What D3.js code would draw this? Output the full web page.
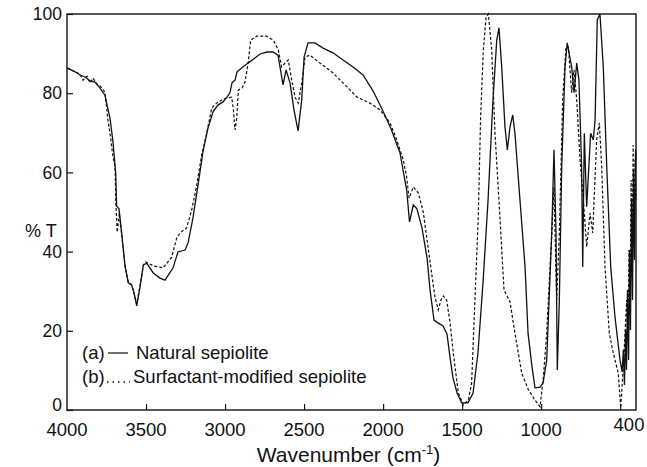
<!DOCTYPE html>
<html>
<head>
<meta charset="utf-8">
<script src="https://cdn.jsdelivr.net/npm/d3@7"></script>
<style>
  body { margin: 0; background: #fff; }
  svg text { font-family: "Liberation Sans", Arial, sans-serif; fill: #111; }
</style>
</head>
<body>
<div id="chart"></div>
<script>
// set up
const W = 647, H = 467;
const margin = { top: 14, right: 11, bottom: 57, left: 67 };
const width = W - margin.left - margin.right;
const height = H - margin.top - margin.bottom;

// data: wavenumber (cm-1) and % T
// (a) natural sepiolite, solid line
const wnA = [4000, 3949, 3918, 3886, 3854, 3823, 3791, 3760, 3728, 3709, 3692, 3686, 3671, 3654, 3633, 3612, 3591, 3576, 3559, 3538,
  3517, 3496, 3454, 3412, 3380, 3329, 3298, 3253, 3234, 3203, 3171, 3140, 3108, 3076, 3045, 3013, 2988, 2969, 2956, 2937,
  2924, 2893, 2855, 2811, 2779, 2735, 2697, 2665, 2633, 2614, 2589, 2564, 2538, 2515, 2500, 2475, 2431, 2380, 2317, 2254,
  2190, 2127, 2064, 2001, 1950, 1893, 1874, 1851, 1833, 1809, 1786, 1754, 1722, 1703, 1678, 1653, 1621, 1596, 1577, 1558,
  1532, 1503, 1463, 1431, 1400, 1368, 1336, 1305, 1281, 1267, 1250, 1229, 1214, 1197, 1180, 1166, 1134, 1102, 1083, 1058,
  1039, 1007, 988, 965, 933, 919, 906, 898, 885, 870, 849, 835, 807, 792, 775, 761, 744, 737, 727, 712,
  687, 670, 659, 645, 628, 607, 585, 560, 533, 501, 488, 480, 473, 466, 460, 454, 447, 441, 435, 428,
  422, 416, 410, 403, 400];
const tA = [86.4, 85.4, 84.6, 84.1, 83.1, 82.8, 81.3, 79.5, 73.7, 67.7, 59.8, 51.5, 50.8, 44.7, 36.4, 32.1, 31.6, 29.5, 26.3, 31.1,
  36.6, 37.1, 34.6, 33.3, 32.8, 35.9, 39.9, 40.4, 42.2, 48.5, 56.8, 65.2, 71.2, 75.3, 77.0, 77.8, 79.0, 80.1, 82.6, 83.3,
  85.4, 86.4, 87.6, 88.9, 89.9, 90.4, 90.4, 89.6, 82.1, 85.9, 82.6, 75.8, 70.5, 78.3, 89.1, 92.7, 92.7, 91.4, 90.2, 88.4,
  86.6, 84.6, 80.6, 75.5, 71.0, 64.9, 60.6, 55.6, 47.5, 51.8, 50.8, 46.0, 38.4, 30.3, 22.7, 22.0, 21.2, 19.2, 13.4, 8.1,
  4.3, 1.8, 1.8, 4.3, 14.4, 32.1, 53.0, 78.3, 93.4, 96.5, 86.9, 71.5, 65.7, 71.5, 74.5, 69.9, 53.0, 36.1, 19.4, 10.9,
  5.6, 5.8, 6.8, 12.6, 44.7, 65.7, 44.7, 10.1, 27.8, 61.4, 86.6, 92.7, 86.6, 80.1, 87.6, 83.3, 61.4, 36.1, 69.9, 51.3,
  69.9, 68.2, 73.2, 98.5, 100, 86.6, 61.4, 36.1, 23.5, 12.6, 9.6, 15.2, 6.3, 20.2, 10.1, 30.3, 12.6, 40.4, 20.2, 53.0,
  27.8, 60.6, 37.9, 65.7, 63.1];

// (b) surfactant-modified sepiolite, dotted line
const wnB = [4000, 3949, 3918, 3899, 3873, 3854, 3836, 3810, 3791, 3760, 3741, 3728, 3709, 3696, 3690, 3682, 3669, 3654, 3633, 3612,
  3591, 3576, 3559, 3538, 3517, 3502, 3454, 3391, 3338, 3306, 3285, 3243, 3211, 3179, 3148, 3116, 3084, 3053, 3021, 2990,
  2958, 2947, 2937, 2926, 2916, 2893, 2874, 2853, 2838, 2800, 2737, 2695, 2663, 2642, 2621, 2600, 2578, 2557, 2537, 2515,
  2494, 2463, 2399, 2317, 2228, 2165, 2083, 2020, 1956, 1914, 1872, 1851, 1836, 1809, 1777, 1746, 1703, 1672, 1651, 1634,
  1619, 1598, 1577, 1556, 1524, 1493, 1461, 1440, 1419, 1398, 1383, 1366, 1349, 1334, 1313, 1292, 1260, 1235, 1197, 1166,
  1123, 1081, 1039, 1007, 986, 965, 933, 919, 902, 885, 864, 843, 828, 807, 792, 775, 754, 733, 712, 691,
  674, 649, 632, 617, 596, 569, 544, 512, 497, 480, 459, 450, 444, 437, 431, 425, 418, 412, 406, 400];
const tB = [86.4, 85.4, 84.8, 83.3, 84.3, 82.6, 83.8, 82.3, 81.8, 80.3, 73.2, 69.9, 63.9, 61.4, 51.3, 44.9, 49.7, 44.2, 36.4, 32.1,
  31.6, 29.5, 26.8, 31.3, 36.6, 37.4, 36.4, 35.9, 38.6, 43.4, 44.7, 46.0, 50.5, 56.8, 64.4, 69.9, 76.3, 77.5, 78.3, 78.8,
  79.0, 75.8, 70.7, 73.7, 80.8, 81.3, 82.8, 87.9, 93.4, 94.4, 94.4, 93.4, 90.9, 86.6, 87.6, 88.4, 83.3, 79.0, 77.5, 82.6,
  89.1, 89.6, 87.6, 85.1, 81.6, 79.0, 77.5, 75.8, 72.5, 68.2, 63.1, 58.8, 53.5, 56.3, 54.8, 50.0, 37.4, 28.5, 25.3, 27.8,
  28.8, 27.8, 22.2, 14.4, 4.3, 1.3, 2.5, 6.8, 27.8, 48.7, 74.0, 90.9, 99.0, 100, 90.9, 69.9, 48.0, 30.3, 27.3, 19.4,
  9.3, 5.1, 2.5, 0.8, 8.3, 19.4, 44.7, 56.3, 27.8, 44.7, 78.3, 91.7, 91.7, 80.1, 85.9, 78.3, 63.1, 53.0, 41.2, 49.7,
  44.7, 68.2, 72.5, 61.4, 36.1, 19.4, 14.4, 9.3, 0.5, 10.9, 27.8, 17.7, 40.4, 27.8, 58.1, 37.9, 66.9, 42.9, 63.1, 53.0];

const xTickMarks = [3500, 3000, 2500, 2000, 1500, 1000, 500];
const xTickLabels = [4000, 3500, 3000, 2500, 2000, 1500, 1000, 400];
const yTicks = [0, 20, 40, 60, 80, 100];

const svg = d3.select('#chart')
  .append('svg')
  .attr('width', W)
  .attr('height', H)
  .append('g')
  .attr('transform', `translate(${margin.left},${margin.top})`);

// scales
const x = d3.scaleLinear().domain([4000, 400]).range([0, width]);
const y = d3.scaleLinear().domain([0, 100]).range([height, 0]);

// ticks (pointing inward)
svg.append('g')
  .attr('transform', `translate(0,${height})`)
  .call(d3.axisBottom(x).tickValues(xTickMarks).tickSize(-6).tickFormat(''))
  .call(g => g.select('.domain').remove())
  .call(g => g.selectAll('line').attr('stroke', '#111').attr('stroke-width', 1.2));

svg.append('g')
  .call(d3.axisLeft(y).tickValues(yTicks).tickSize(-6).tickPadding(5).tickFormat(d3.format('d')))
  .call(g => g.select('.domain').remove())
  .call(g => g.selectAll('line').attr('stroke', '#111').attr('stroke-width', 1.2))
  .call(g => g.selectAll('text').attr('font-size', '17.5px').style('font-family', '"Liberation Sans", Arial, sans-serif'))
  // the 0 sits a little higher so it clears the 4000 below it
  .call(g => g.selectAll('.tick').filter(d => d === 0).select('text').attr('dy', '0.05em'));

// x tick labels
svg.append('g')
  .selectAll('text')
  .data(xTickLabels)
  .join('text')
  .attr('x', d => x(d) + (d === 400 ? -7 : 0))
  .attr('y', d => height + (d === 400 ? 21 : 26))
  .attr('text-anchor', 'middle')
  .attr('font-size', '18.5px')
  .text(d => d);

// frame
svg.append('rect')
  .attr('width', width)
  .attr('height', height)
  .attr('fill', 'none')
  .attr('stroke', '#111')
  .attr('stroke-width', 1.4);

// lines
const line = d3.line()
  .x(d => x(d[0]))
  .y(d => y(d[1]));

svg.append('path')
  .datum(d3.zip(wnB, tB))
  .attr('fill', 'none')
  .attr('stroke', '#111')
  .attr('stroke-width', 1.2)
  .attr('stroke-dasharray', '3,2')
  .attr('d', line);

svg.append('path')
  .datum(d3.zip(wnA, tA))
  .attr('fill', 'none')
  .attr('stroke', '#111')
  .attr('stroke-width', 1.3)
  .attr('d', line);

// axis titles
svg.append('text')
  .attr('x', -42)
  .attr('y', 223)
  .attr('font-size', '18px')
  .text('% T');

const xt = svg.append('text')
  .attr('x', width / 2 - 3)
  .attr('y', height + 52)
  .attr('text-anchor', 'middle')
  .attr('font-size', '21px');
xt.append('tspan').text('Wavenumber (cm');
xt.append('tspan').attr('font-size', '13px').attr('dy', -8).text('-1');
xt.append('tspan').attr('dy', 8).text(')');

// legend
const legend = svg.append('g').attr('font-size', '18.5px');
legend.append('text').attr('x', 15).attr('y', 345).text('(a)');
legend.append('line').attr('x1', 41).attr('x2', 61).attr('y1', 339).attr('y2', 339)
  .attr('stroke', '#111').attr('stroke-width', 1.2);
legend.append('text').attr('x', 69).attr('y', 345).text('Natural sepiolite');
legend.append('text').attr('x', 15).attr('y', 369).text('(b)');
legend.append('line').attr('x1', 40).attr('x2', 63).attr('y1', 368).attr('y2', 368)
  .attr('stroke', '#111').attr('stroke-width', 1.3).attr('stroke-dasharray', '1.5,4');
legend.append('text').attr('x', 66).attr('y', 369).text('Surfactant-modified sepiolite');
</script>
</body>
</html>
